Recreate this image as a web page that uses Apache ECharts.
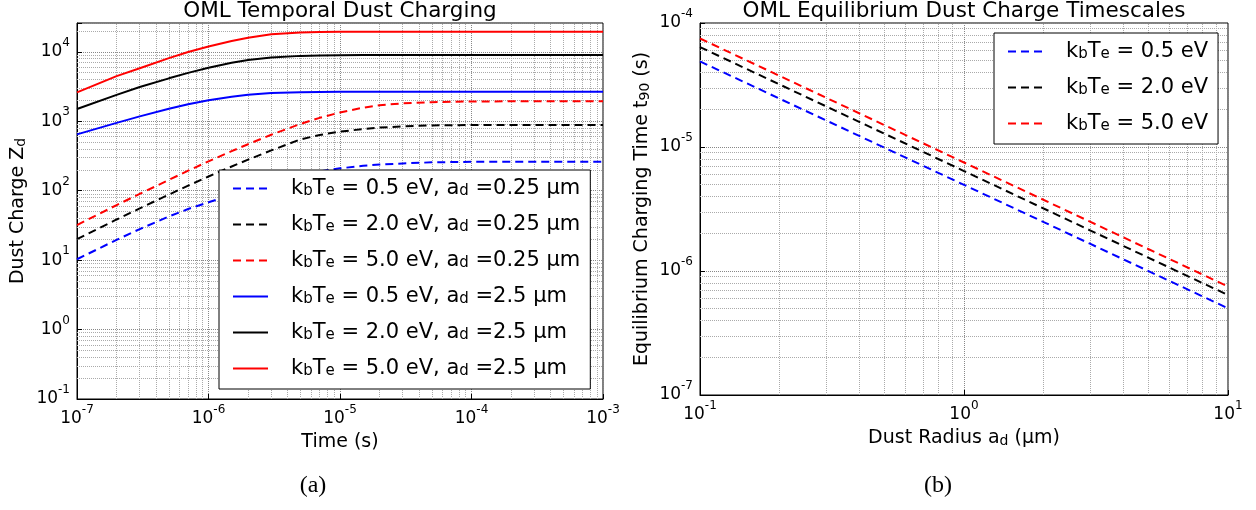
<!DOCTYPE html>
<html>
<head>
<meta charset="utf-8" />
<script src="https://cdn.jsdelivr.net/npm/echarts@6/dist/echarts.min.js"></script>
<style>
    html, body { margin: 0; padding: 0; background: #fff; }
    #chart { width: 1256px; height: 510px; }
</style>
</head>
<body>
<div id="chart"></div>
<script type="text/javascript">
// (a) temporal dust charging
var timeS = [1e-7, 2e-7, 3e-7, 5e-7, 7e-7, 1e-6, 1.5e-6, 2e-6, 3e-6, 5e-6, 7e-6, 1e-5, 1.5e-5, 2e-5, 3e-5, 5e-5, 1e-4, 2e-4, 5e-4, 1e-3];
var zDash05 = [10.3, 19.6, 28, 42.5, 54.5, 68, 87.6, 105, 131, 167, 189, 210, 228, 238, 247, 256, 261, 262, 262, 262];
var zDash20 = [20, 38.5, 55.5, 88, 118, 160, 223, 280, 380, 548, 635, 708, 772, 810, 845, 870, 882, 885, 885, 885];
var zDash50 = [32, 62, 90, 143, 194, 264, 371, 467, 640, 914, 1120, 1339, 1570, 1700, 1810, 1885, 1928, 1935, 1935, 1935];
var zSolid05 = [647, 947, 1176, 1518, 1763, 2009, 2256, 2405, 2542, 2620, 2645, 2656, 2660, 2660, 2660, 2660, 2660, 2660, 2660, 2660];
var zSolid20 = [1500, 2400, 3110, 4150, 4970, 5880, 6940, 7600, 8300, 8740, 8860, 8950, 8975, 8980, 8980, 8980, 8980, 8980, 8980, 8980];
var zSolid50 = [2600, 4470, 5800, 8110, 9960, 11900, 14330, 15940, 17850, 19050, 19350, 19420, 19450, 19450, 19450, 19450, 19450, 19450, 19450, 19450];

// (b) equilibrium charging time vs dust radius
var radiusUm = [0.1, 0.3, 1, 3, 10];
var t90e05 = [4.9e-5, 1.64e-5, 4.95e-6, 1.66e-6, 5.0e-7];
var t90e20 = [6.4e-5, 2.13e-5, 6.4e-6, 2.13e-6, 6.4e-7];
var t90e50 = [7.5e-5, 2.5e-5, 7.5e-6, 2.5e-6, 7.5e-7];

var namesA = ['k_bT_e = 0.5 eV, a_d =0.25 µm', 'k_bT_e = 2.0 eV, a_d =0.25 µm', 'k_bT_e = 5.0 eV, a_d =0.25 µm',
              'k_bT_e = 0.5 eV, a_d =2.5 µm', 'k_bT_e = 2.0 eV, a_d =2.5 µm', 'k_bT_e = 5.0 eV, a_d =2.5 µm'];
var namesB = ['k_bT_e = 0.5 eV', 'k_bT_e = 2.0 eV', 'k_bT_e = 5.0 eV'];

var FONT = 'DejaVu Sans';

function pairs(xs, ys) {
    var out = [];
    for (var i = 0; i < xs.length; i++) out.push([xs[i], ys[i]]);
    return out;
}

// 2..9 x 10^n for the dotted minor grid
function minorSteps(fromExp, toExp) {
    var out = [];
    for (var e = fromExp; e < toExp; e++) {
        for (var k = 2; k <= 9; k++) out.push(k * Math.pow(10, e));
    }
    return out;
}

function powLabel(v) {
    var e = Math.log10(v);
    var r = Math.round(e);
    if (Math.abs(e - r) > 1e-6) return '';
    return '{b|10}{sup|' + r + '}';
}

// k_bT_e -> rich text with subscripts
function subText(name) {
    return name.replace(/_(\w)/g, '{sub|$1}');
}

// tall base token so the exponent sits above the digits
var labelRich = {
    b: { fontSize: 17, fontFamily: FONT, verticalAlign: 'middle', color: '#000', lineHeight: 30 },
    sup: { fontSize: 12, fontFamily: FONT, verticalAlign: 'top', color: '#000', lineHeight: 12 }
};
var nameRich = {
    sub: { fontSize: 14, fontFamily: FONT, verticalAlign: 'bottom', color: '#000', lineHeight: 15 }
};
var legendRich = {
    sub: { fontSize: 15, fontFamily: FONT, verticalAlign: 'bottom', color: '#000', lineHeight: 16 },
    gap: { width: 18 }
};

function makeX(grid, min, max, name, gap) {
    return {
        type: 'log', gridIndex: grid, min: min, max: max, logBase: 10,
        axisLine: { lineStyle: { color: '#000', width: 1 } },
        axisTick: { inside: true, length: 5, lineStyle: { color: '#000' } },
        axisLabel: { formatter: powLabel, color: '#000', fontSize: 17, fontFamily: FONT, margin: 5, rich: labelRich },
        splitLine: { show: true, lineStyle: { type: 'dotted', color: '#888', width: 1 } },
        name: name, nameLocation: 'middle', nameGap: gap,
        nameTextStyle: { fontSize: 19, fontFamily: FONT, color: '#000', rich: nameRich }
    };
}

function makeY(grid, min, max, name, gap) {
    return {
        type: 'log', gridIndex: grid, min: min, max: max, logBase: 10,
        axisLine: { lineStyle: { color: '#000', width: 1 } },
        axisTick: { inside: true, length: 5, lineStyle: { color: '#000' } },
        axisLabel: { formatter: powLabel, color: '#000', fontSize: 17, fontFamily: FONT, margin: 7, rich: labelRich },
        splitLine: { show: true, lineStyle: { type: 'dotted', color: '#888', width: 1 } },
        name: name, nameLocation: 'middle', nameGap: gap, nameRotate: 90,
        nameTextStyle: { fontSize: 19, fontFamily: FONT, color: '#000', rich: nameRich }
    };
}

function curve(name, xi, xs, ys, color, dashed) {
    return {
        name: name, type: 'line', xAxisIndex: xi, yAxisIndex: xi,
        data: pairs(xs, ys), showSymbol: false, symbol: 'none',
        color: color, z: 3,
        lineStyle: { color: color, width: 2, type: dashed ? [8, 5] : 'solid' }
    };
}

function minorGrid(xi, xVals, yVals, xExt, yExt) {
    var data = [];
    xVals.forEach(function (v) { data.push({ coords: [[v, yExt[0]], [v, yExt[1]]] }); });
    yVals.forEach(function (v) { data.push({ coords: [[xExt[0], v], [xExt[1], v]] }); });
    return {
        type: 'lines', coordinateSystem: 'cartesian2d', xAxisIndex: xi, yAxisIndex: xi,
        silent: true, z: 1, data: data,
        lineStyle: { type: 'dotted', color: '#aaa', width: 1, opacity: 1 }
    };
}

function makeLegend(left, top, names) {
    return {
        left: left, top: top, orient: 'vertical', data: names, selectedMode: false,
        backgroundColor: '#fff', borderColor: '#000', borderWidth: 1, borderRadius: 0,
        padding: [8, 10, 10, 13], itemWidth: 35, itemHeight: 14, itemGap: 15, z: 10,
        itemStyle: { opacity: 0 },
        formatter: function (n) { return '{gap|}' + subText(n); },
        textStyle: { fontSize: 21, fontFamily: FONT, color: '#000', rich: legendRich }
    };
}

var chart = echarts.init(document.getElementById('chart'));
chart.setOption({
    animation: false,
    backgroundColor: '#fff',
    textStyle: { fontFamily: FONT },
    title: [
        { text: 'OML Temporal Dust Charging', left: 340, top: 0, textAlign: 'center', padding: 0,
          textStyle: { fontSize: 21.5, fontWeight: 'normal', fontFamily: FONT, color: '#000' } },
        { text: 'OML Equilibrium Dust Charge Timescales', left: 964, top: 0, textAlign: 'center', padding: 0,
          textStyle: { fontSize: 21.5, fontWeight: 'normal', fontFamily: FONT, color: '#000' } },
        { text: '(a)', left: 313, top: 474, textAlign: 'center', padding: 0,
          textStyle: { fontSize: 24, fontWeight: 'normal', fontFamily: 'Liberation Serif', color: '#000' } },
        { text: '(b)', left: 938, top: 474, textAlign: 'center', padding: 0,
          textStyle: { fontSize: 24, fontWeight: 'normal', fontFamily: 'Liberation Serif', color: '#000' } }
    ],
    grid: [
        { left: 77, right: 653, top: 23, bottom: 111, show: true, borderColor: '#000', borderWidth: 1, backgroundColor: 'transparent' },
        { left: 700, right: 28, top: 23, bottom: 115, show: true, borderColor: '#000', borderWidth: 1, backgroundColor: 'transparent' }
    ],
    xAxis: [
        makeX(0, 1e-7, 1e-3, 'Time (s)', 32),
        makeX(1, 0.1, 10, 'Dust Radius a{sub|d} (µm)', 34)
    ],
    yAxis: [
        makeY(0, 0.1, 26000, 'Dust Charge Z{sub|d}', 49),
        makeY(1, 1e-7, 1e-4, 'Equilibrium Charging Time t{sub|90} (s)', 48)
    ],
    legend: [
        makeLegend(219, 170, namesA),
        makeLegend(994, 33, namesB)
    ],
    series: [
        minorGrid(0, minorSteps(-7, -3), minorSteps(-1, 5), [1e-7, 1e-3], [0.1, 26000]),
        minorGrid(1, minorSteps(-1, 1), minorSteps(-7, -4), [0.1, 10], [1e-7, 1e-4]),
        curve(namesA[0], 0, timeS, zDash05, '#0000ff', true),
        curve(namesA[1], 0, timeS, zDash20, '#000000', true),
        curve(namesA[2], 0, timeS, zDash50, '#ff0000', true),
        curve(namesA[3], 0, timeS, zSolid05, '#0000ff', false),
        curve(namesA[4], 0, timeS, zSolid20, '#000000', false),
        curve(namesA[5], 0, timeS, zSolid50, '#ff0000', false),
        curve(namesB[0], 1, radiusUm, t90e05, '#0000ff', true),
        curve(namesB[1], 1, radiusUm, t90e20, '#000000', true),
        curve(namesB[2], 1, radiusUm, t90e50, '#ff0000', true)
    ]
});
</script>
</body>
</html>
